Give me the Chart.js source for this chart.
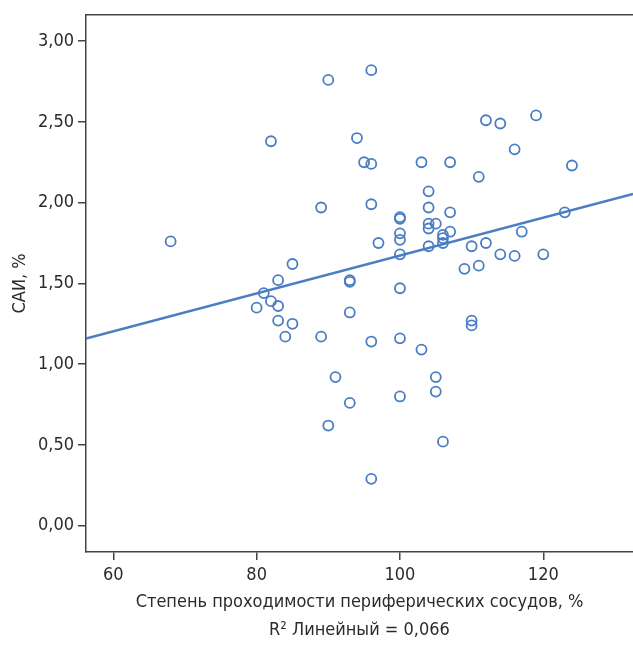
<!DOCTYPE html>
<html>
<head>
<meta charset="utf-8">
<script src="https://cdn.jsdelivr.net/npm/chart.js@4/dist/chart.umd.min.js"></script>
<style>
  html, body { margin: 0; padding: 0; background: #fff; overflow: hidden; }
  #chart { display: block; }
</style>
</head>
<body>
<canvas id="chart" width="633" height="647"></canvas>
<script>
// данные
const xValues = [68, 80, 81, 82, 82, 83, 83, 83, 84, 85, 85, 89, 89, 90, 90, 91,
  93, 93, 93, 93, 94, 95, 96, 96, 96, 96, 96, 97,
  100, 100, 100, 100, 100, 100, 100, 100, 103, 103,
  104, 104, 104, 104, 104, 105, 105, 105, 106, 106, 106, 106,
  107, 107, 107, 109, 110, 110, 110, 111, 111, 112, 112, 114, 114,
  116, 116, 117, 119, 120, 123, 124];
const yValues = [1.76, 1.35, 1.44, 2.38, 1.39, 1.52, 1.36, 1.27, 1.17, 1.62, 1.25, 1.97, 1.17, 2.76, 0.62, 0.92,
  1.52, 1.51, 1.32, 0.76, 2.40, 2.25, 2.82, 2.24, 1.99, 1.14, 0.29, 1.75,
  1.91, 1.90, 1.81, 1.77, 1.68, 1.47, 1.16, 0.80, 1.09, 2.25,
  2.07, 1.97, 1.87, 1.84, 1.73, 0.92, 0.83, 1.87, 1.80, 1.78, 1.75, 0.52,
  2.25, 1.94, 1.82, 1.59, 1.73, 1.27, 1.24, 2.16, 1.61, 2.51, 1.75, 2.49, 1.68,
  2.33, 1.67, 1.82, 2.54, 1.68, 1.94, 2.23];

// линия регрессии (концы по краям области графика)
const fitX = [56.19, 132.52];
const fitY = [1.158, 2.054];

const xTicks = [60, 80, 100, 120];
const yTicks = [0, 0.5, 1, 1.5, 2, 2.5, 3];

const xTitle = 'Степень проходимости периферических сосудов, %';
const rSquaredLabel = 'R² Линейный = 0,066';
const yTitle = 'САИ, %';

const blue = '#4a7dc2';
const axisColor = '#444';
const textColor = '#2b2b2b';
const fontFamily = '"DejaVu Sans Condensed", "Liberation Sans", sans-serif';

const points = xValues.map((x, i) => ({ x: x, y: yValues[i] }));
const fitLine = fitX.map((x, i) => ({ x: x, y: fitY[i] }));

// верхняя рамка области графика
const topFrame = {
  id: 'topFrame',
  afterDraw(chart) {
    const { ctx, chartArea } = chart;
    ctx.save();
    ctx.strokeStyle = axisColor;
    ctx.lineWidth = 1.5;
    ctx.beginPath();
    ctx.moveTo(chartArea.left, chartArea.top);
    ctx.lineTo(chart.width, chartArea.top);
    ctx.stroke();
    ctx.restore();
  }
};

new Chart(document.getElementById('chart'), {
  type: 'scatter',
  data: {
    datasets: [
      {
        data: points,
        pointRadius: 5,
        pointHoverRadius: 5,
        pointBorderWidth: 1.8,
        pointBorderColor: blue,
        pointBackgroundColor: 'rgba(255,255,255,0)',
        order: 1
      },
      {
        data: fitLine,
        showLine: true,
        borderColor: blue,
        borderWidth: 2.5,
        pointRadius: 0,
        order: 2
      }
    ]
  },
  options: {
    responsive: false,
    animation: false,
    layout: { autoPadding: false, padding: { top: 14, right: 0, bottom: 0, left: 0 } },
    plugins: {
      legend: { display: false },
      tooltip: { enabled: false }
    },
    scales: {
      x: {
        type: 'linear',
        min: 56.19,
        max: 132.52,
        afterBuildTicks: (scale) => { scale.ticks = xTicks.map(v => ({ value: v })); },
        afterFit: (scale) => {
          scale.height = 95;
          // область графика доходит до правого края
          scale.paddingLeft = 0;
          scale.paddingRight = 0;
        },
        grid: { drawOnChartArea: false, drawTicks: true, tickLength: 8, color: axisColor, lineWidth: 1.5 },
        border: { display: true, color: axisColor, width: 1.5 },
        ticks: {
          padding: 5,
          color: textColor,
          font: { family: fontFamily, size: 18 },
          callback: (v) => String(v)
        },
        title: {
          display: true,
          text: [xTitle, rSquaredLabel],
          color: textColor,
          font: { family: fontFamily, size: 18, lineHeight: 1.58 },
          padding: { top: 0, bottom: 2 }
        }
      },
      y: {
        type: 'linear',
        min: -0.163,
        max: 3.163,
        afterBuildTicks: (scale) => { scale.ticks = yTicks.map(v => ({ value: v })); },
        afterFit: (scale) => { scale.width = 86; },
        grid: { drawOnChartArea: false, drawTicks: true, tickLength: 8, color: axisColor, lineWidth: 1.5 },
        border: { display: true, color: axisColor, width: 1.5 },
        ticks: {
          padding: 4,
          color: textColor,
          font: { family: fontFamily, size: 18 },
          callback: (v) => v.toFixed(2).replace('.', ',')
        },
        title: {
          display: true,
          text: yTitle,
          color: textColor,
          font: { family: fontFamily, size: 18, lineHeight: 1.2 },
          padding: { top: 10, bottom: 0 }
        }
      }
    }
  },
  plugins: [topFrame]
});
</script>
</body>
</html>
